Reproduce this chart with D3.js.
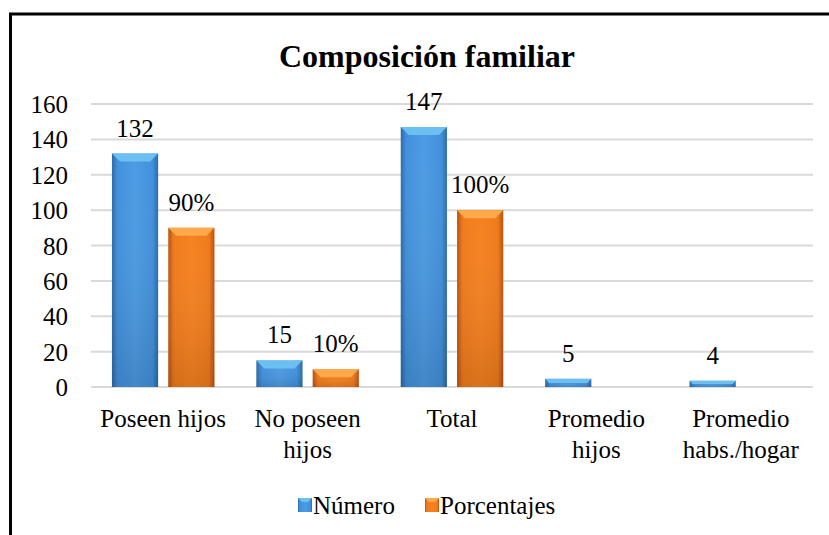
<!DOCTYPE html>
<html>
<head>
<meta charset="utf-8">
<script src="https://cdn.jsdelivr.net/npm/d3@7"></script>
</head>
<body style="margin:0">
<script>
const FONT = '"Liberation Serif"'
const W = 829, H = 535
const MARGIN = {LEFT: 91, RIGHT: 16, TOP: 104, BOTTOM: 148}
const WIDTH = W - MARGIN.LEFT - MARGIN.RIGHT
const HEIGHT = H - MARGIN.TOP - MARGIN.BOTTOM

// data
const categories = ["Poseen hijos", "No poseen hijos", "Total", "Promedio hijos", "Promedio habs./hogar"]
const catLines = [["Poseen hijos"], ["No poseen", "hijos"], ["Total"], ["Promedio", "hijos"], ["Promedio", "habs./hogar"]]
const series = ["Número", "Porcentajes"]
const numero = [132, 15, 147, 4.6, 3.5]
const porcentajes = [90, 10, 100, null, null]
const yTicks = [0, 20, 40, 60, 80, 100, 120, 140, 160]

const svg = d3.select("body").append("svg")
  .attr("width", W)
  .attr("height", H)
  .style("font-family", FONT)

// gradients for bevelled bars
const defs = svg.append("defs")
const palettes = {
  "Número": {dark: "#2b6aa9", mid: "#4190dc", light: "#4c9be3", top: "#6cc0f0"},
  "Porcentajes": {dark: "#b8520e", mid: "#f07a1c", light: "#f5821f", top: "#ffa94a"}
}
series.forEach((s, i) => {
  const p = palettes[s]
  const lg = defs.append("linearGradient").attr("id", "g" + i)
    .attr("x1", 0).attr("x2", 1).attr("y1", 0).attr("y2", 0)
  lg.append("stop").attr("offset", "0%").attr("stop-color", p.dark)
  lg.append("stop").attr("offset", "12%").attr("stop-color", p.mid)
  lg.append("stop").attr("offset", "50%").attr("stop-color", p.light)
  lg.append("stop").attr("offset", "88%").attr("stop-color", p.mid)
  lg.append("stop").attr("offset", "100%").attr("stop-color", p.dark)
  const vg = defs.append("linearGradient").attr("id", "v" + i)
    .attr("x1", 0).attr("x2", 0).attr("y1", 0).attr("y2", 1)
  vg.append("stop").attr("offset", "0%").attr("stop-color", "#fff").attr("stop-opacity", 0)
  vg.append("stop").attr("offset", "100%").attr("stop-color", "#000").attr("stop-opacity", 0.12)
})

// outer frame (only left and top visible)
svg.append("rect")
  .attr("x", 10.5).attr("y", 14)
  .attr("width", 900).attr("height", 900)
  .attr("fill", "none").attr("stroke", "#000").attr("stroke-width", 3)

// title
svg.append("text")
  .attr("x", 427).attr("y", 67)
  .attr("text-anchor", "middle")
  .attr("font-size", "32px")
  .attr("font-weight", "bold")
  .style("font-family", FONT)
  .text("Composición familiar")

const g = svg.append("g")
  .attr("transform", `translate(${MARGIN.LEFT}, ${MARGIN.TOP})`)

const x0 = d3.scaleBand()
  .domain(categories)
  .range([0, WIDTH])
  .paddingInner(0.29)
  .paddingOuter(0.145)

const x1 = d3.scaleBand()
  .domain(series)
  .range([0, x0.bandwidth()])
  .paddingInner(0.18)

const y = d3.scaleLinear()
  .domain([0, 160])
  .range([HEIGHT, 0])

// gridlines
g.append("g")
  .selectAll("line").data(yTicks).enter().append("line")
  .attr("x1", 0).attr("x2", WIDTH)
  .attr("y1", d => y(d)).attr("y2", d => y(d))
  .attr("stroke", "#d9d9d9").attr("stroke-width", 2)

// y axis
const yAxisCall = d3.axisLeft(y).tickValues(yTicks).tickSize(0).tickPadding(23)
g.append("g")
  .attr("class", "y axis")
  .call(yAxisCall)
  .call(a => a.select(".domain").remove())
  .selectAll("text")
    .attr("font-size", "25px")
    .style("font-family", FONT)
    .attr("fill", "#000")
    .attr("dy", "0.34em")

// bars
const rows = []
categories.forEach((c, i) => {
  rows.push({cat: c, s: series[0], si: 0, v: numero[i], label: d3.format(".0f")(numero[i])})
  if (porcentajes[i] != null) rows.push({cat: c, s: series[1], si: 1, v: porcentajes[i], label: porcentajes[i] + "%"})
})

const bars = g.selectAll(".bar").data(rows).enter().append("g").attr("class", "bar")
  .attr("transform", d => `translate(${x0(d.cat) + x1(d.s)}, 0)`)

bars.append("rect")
  .attr("x", 0)
  .attr("y", d => y(d.v))
  .attr("width", x1.bandwidth())
  .attr("height", d => y(0) - y(d.v))
  .attr("fill", d => `url(#g${d.si})`)

bars.append("rect")
  .attr("x", 0)
  .attr("y", d => y(d.v))
  .attr("width", x1.bandwidth())
  .attr("height", d => y(0) - y(d.v))
  .attr("fill", d => `url(#v${d.si})`)

// top bevel
bars.append("path")
  .attr("d", d => {
    const t = y(d.v), w = x1.bandwidth(), b = Math.min(8, (y(0) - t) / 2)
    return `M0,${t}L${w},${t}L${w - b},${t + b}L${b},${t + b}Z`
  })
  .attr("fill", d => palettes[d.s].top)

// data labels
bars.append("text")
  .attr("x", x1.bandwidth() / 2)
  .attr("y", d => y(d.v) - 17)
  .attr("text-anchor", "middle")
  .attr("font-size", "25px")
  .style("font-family", FONT)
  .text(d => d.label)

// category labels
const cl = g.append("g").selectAll("text").data(categories).enter().append("text")
  .attr("x", d => x0(d) + x0.bandwidth() / 2)
  .attr("y", HEIGHT + 40)
  .attr("text-anchor", "middle")
  .attr("font-size", "25px")
  .style("font-family", FONT)
cl.selectAll("tspan").data((d, i) => catLines[i]).enter().append("tspan")
  .attr("x", function() { return d3.select(this.parentNode).attr("x") })
  .attr("dy", (d, i) => i === 0 ? 0 : 31)
  .text(d => d)

// legend
const legend = svg.append("g").attr("transform", "translate(298, 505)")
const legX = [0, 127]
series.forEach((s, i) => {
  const lg = legend.append("g").attr("transform", `translate(${legX[i]}, 0)`)
  lg.append("rect").attr("x", 0).attr("y", -7).attr("width", 14).attr("height", 14)
    .attr("fill", `url(#g${i})`)
  lg.append("path").attr("d", "M0,-7L14,-7L10,-3L4,-3Z").attr("fill", palettes[s].top)
  lg.append("text").attr("x", 15).attr("y", 0).attr("dy", "0.34em")
    .attr("font-size", "25px").style("font-family", FONT).text(s)
})
</script>
</body>
</html>
